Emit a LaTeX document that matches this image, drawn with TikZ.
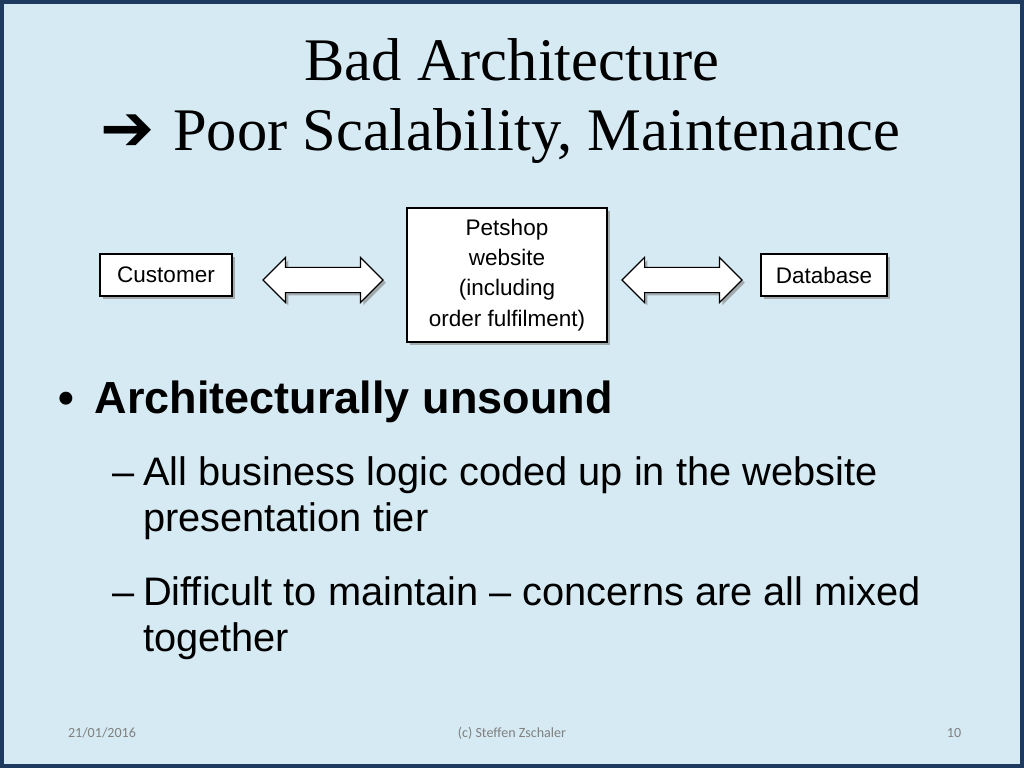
\documentclass[tikz,border=0pt]{standalone}
\usepackage{fontspec}
\setmainfont{Liberation Serif}
\setsansfont{Liberation Sans}
\newfontfamily\footfont{Carlito}
\newfontfamily\symfont{DejaVu Sans}
\usetikzlibrary{shapes.arrows,shadows,positioning}
\definecolor{slidebg}{HTML}{D6EAF3}
\definecolor{slideedge}{HTML}{1F3A5F}
\tikzset{
  tierbox/.style={draw=black,fill=white,thick,font=\sffamily\fontsize{16}{21.5}\selectfont,
    align=center,inner sep=0pt,drop shadow={shadow xshift=2pt,shadow yshift=-2pt,opacity=0.6}},
  linkarrow/.style={double arrow,draw=black,fill=white,thick,
    double arrow head extend=0.25cm,minimum height=3cm,inner sep=0pt,
    double arrow head indent=0pt,
    drop shadow={shadow xshift=2pt,shadow yshift=-2pt,opacity=0.6}},
  bodytext/.style={anchor=west,font=\sffamily\fontsize{28.3}{33}\selectfont,align=left},
  foottext/.style={font=\footfont\fontsize{10}{12}\selectfont,text=gray}
}
\begin{document}
\begin{tikzpicture}[x=0.025cm,y=-0.025cm]
\useasboundingbox (0,0) rectangle (1024,768);
\fill[slidebg] (0,0) rectangle (1024,768);
\draw[slideedge,line width=3pt] (2,2) rectangle (1022,766);
% title
\node (title) at (512,60) {\fontsize{43}{50}\selectfont Bad Architecture};
\node[anchor=west] (subtitle) at (96,136) {\fontsize{43}{50}\selectfont{\symfont\fontsize{46}{50}\selectfont ➔}\hspace{0.3em}Poor Scalability, Maintenance};
% diagram
\node[tierbox,minimum width=3.3cm,minimum height=1.05cm] (customer) at (166,275) {Customer};
\node[tierbox,minimum width=5cm,minimum height=3.35cm] (shop) at (507,275) {Petshop\\website\\(including\\order fulfilment)};
\node[tierbox,minimum width=3.15cm,minimum height=1.05cm] (db) at (824,275) {Database};
\node[linkarrow] (left) at (323,280) {\rule{0pt}{0.6cm}};
\node[linkarrow] (right) at (682,280) {\rule{0pt}{0.6cm}};
% bullets
\node[bodytext,font=\sffamily\bfseries\fontsize{32}{36}\selectfont] (b1) at (54,402) {•\hspace{0.45em}Architecturally unsound};
\node[bodytext] (b2) at (108,498) {–\hspace{0.2em}All business logic coded up in the website\\\hspace{0.756em}presentation tier};
\node[bodytext] (b3) at (108,618) {–\hspace{0.2em}Difficult to maintain – concerns are all mixed\\\hspace{0.756em}together};
% footer
\node[foottext] (date) at (102,733) {21/01/2016};
\node[foottext] (author) at (512,733) {(c) Steffen Zschaler};
\node[foottext] (page) at (954,733) {10};
\end{tikzpicture}
\end{document}
